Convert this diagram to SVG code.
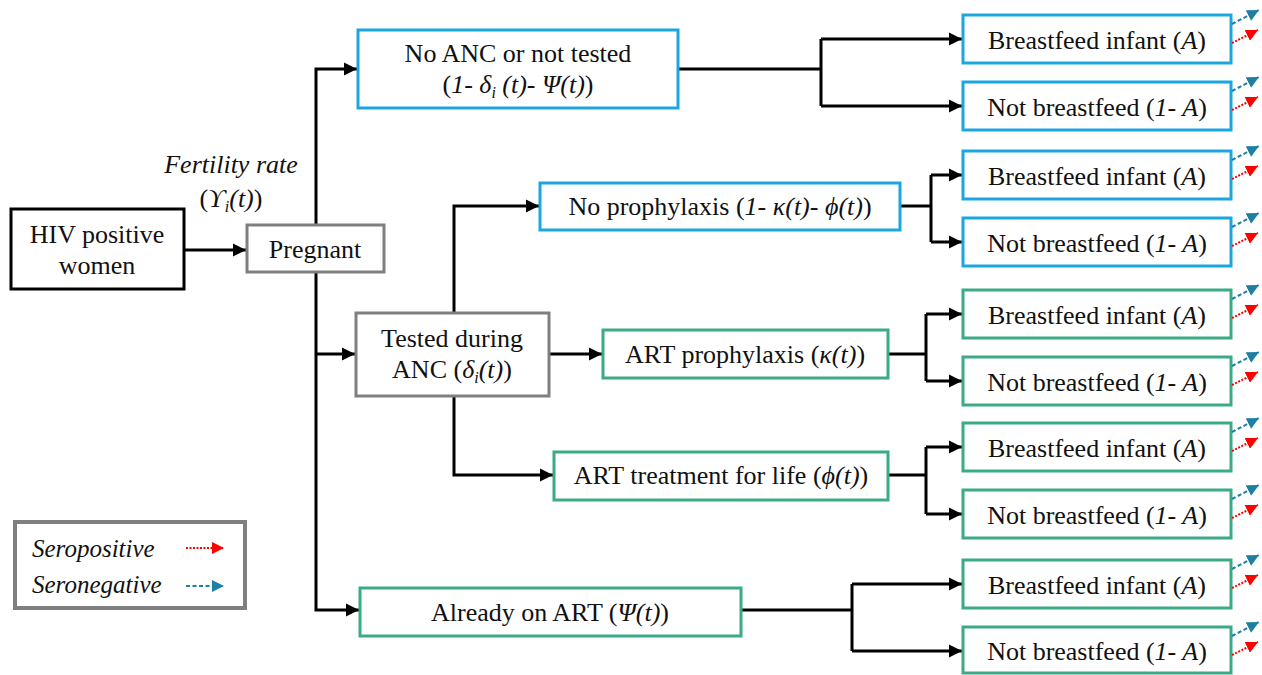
<svg xmlns="http://www.w3.org/2000/svg" width="1262" height="675" viewBox="0 0 1262 675" font-family="'Liberation Serif','Times New Roman','DejaVu Serif',serif">
<style>
text{font-family:"Liberation Serif","Times New Roman","DejaVu Serif",serif;font-size:26px;fill:#111;text-anchor:middle}
.i{font-style:italic}
.sub{font-size:16px;font-style:italic}
.box{fill:#fff;stroke-width:3}
.k{stroke:#000}
.g{stroke:#7f7f7f}
.b{stroke:#1aa7e0}
.t{stroke:#3aaa88}
.c{fill:none;stroke:#000;stroke-width:3}
.sn{fill:none;stroke:#1f7fa3;stroke-width:2;stroke-dasharray:4 2.5}
.sp{fill:none;stroke:#ff0000;stroke-width:2;stroke-dasharray:2 1.5}
.leg{font-size:25px;font-style:italic;text-anchor:start}
</style>
<defs>
<marker id="ah" viewBox="0 0 10 10" refX="10" refY="5" markerWidth="4.5" markerHeight="5" markerUnits="strokeWidth" orient="auto"><path d="M0,0L10,5L0,10z" fill="#000"/></marker>
<marker id="ab" viewBox="0 0 10 10" refX="10" refY="5" markerWidth="6" markerHeight="6" markerUnits="strokeWidth" orient="auto"><path d="M0,0L10,5L0,10z" fill="#1f7fa3"/></marker>
<marker id="ar" viewBox="0 0 10 10" refX="10" refY="5" markerWidth="6" markerHeight="6" markerUnits="strokeWidth" orient="auto"><path d="M0,0L10,5L0,10z" fill="#ff0000"/></marker>
</defs>

<g id="connectors">
<path class="c" d="M184,250H246" marker-end="url(#ah)"/>
<path class="c" d="M316,225V69H357" marker-end="url(#ah)"/>
<path class="c" d="M316,272V610H359" marker-end="url(#ah)"/>
<path class="c" d="M316,354H355" marker-end="url(#ah)"/>
<path class="c" d="M454,313V206H539" marker-end="url(#ah)"/>
<path class="c" d="M549,354H602" marker-end="url(#ah)"/>
<path class="c" d="M454,396V475H553" marker-end="url(#ah)"/>
<path class="c" d="M678,69H821"/>
<path class="c" d="M821,39V106"/>
<path class="c" d="M821,39H962" marker-end="url(#ah)"/>
<path class="c" d="M821,106H962" marker-end="url(#ah)"/>
<path class="c" d="M900,206H931"/>
<path class="c" d="M931,175V242"/>
<path class="c" d="M931,175H962" marker-end="url(#ah)"/>
<path class="c" d="M931,242H962" marker-end="url(#ah)"/>
<path class="c" d="M888,354H926"/>
<path class="c" d="M926,314V381"/>
<path class="c" d="M926,314H962" marker-end="url(#ah)"/>
<path class="c" d="M926,381H962" marker-end="url(#ah)"/>
<path class="c" d="M888,475H926"/>
<path class="c" d="M926,447V514"/>
<path class="c" d="M926,447H962" marker-end="url(#ah)"/>
<path class="c" d="M926,514H962" marker-end="url(#ah)"/>
<path class="c" d="M741,610H852"/>
<path class="c" d="M852,584V651"/>
<path class="c" d="M852,584H962" marker-end="url(#ah)"/>
<path class="c" d="M852,651H962" marker-end="url(#ah)"/>
</g>

<g id="label-fertility">
<text x="231" y="173" class="i">Fertility rate</text>
<text x="231" y="207">(<tspan class="i">ϒ</tspan><tspan class="sub" dy="5">i</tspan><tspan class="i" dy="-5">(t)</tspan>)</text>
</g>

<g id="hiv"><rect class="box k" x="11" y="209" width="173" height="80"/><text x="97" y="243">HIV positive</text><text x="97" y="274">women</text></g>
<g id="pregnant"><rect class="box g" x="247" y="225" width="137" height="47"/><text x="315" y="258">Pregnant</text></g>
<g id="noanc"><rect class="box b" x="358" y="30" width="320" height="78"/><text x="518" y="62">No ANC or not tested</text><text x="518" y="93">(<tspan class="i">1- δ</tspan><tspan class="sub" dy="5">i</tspan><tspan class="i" dy="-5"> (t)- Ψ(t)</tspan>)</text></g>
<g id="tested"><rect class="box g" x="356" y="313" width="193" height="83"/><text x="452" y="347">Tested during</text><text x="452" y="378">ANC (<tspan class="i">δ</tspan><tspan class="sub" dy="5">i</tspan><tspan class="i" dy="-5">(t)</tspan>)</text></g>
<g id="noproph"><rect class="box b" x="540" y="183" width="360" height="47"/><text x="720" y="215">No prophylaxis (<tspan class="i">1- κ(t)- ϕ(t)</tspan>)</text></g>
<g id="artproph"><rect class="box t" x="603" y="330" width="285" height="48"/><text x="745" y="363">ART prophylaxis (<tspan class="i">κ(t)</tspan>)</text></g>
<g id="arttreat"><rect class="box t" x="554" y="452" width="334" height="48"/><text x="721" y="484">ART treatment for life (<tspan class="i">ϕ(t)</tspan>)</text></g>
<g id="already"><rect class="box t" x="360" y="588" width="381" height="48"/><text x="550" y="621">Already on ART (<tspan class="i">Ψ(t)</tspan>)</text></g>

<g id="bf1"><rect class="box b" x="963" y="15" width="268" height="48"/><text x="1097" y="49">Breastfeed infant (<tspan class="i">A</tspan>)</text><path class="sn" d="M1232,24L1259,10" marker-end="url(#ab)"/><path class="sp" d="M1232,43L1258,30" marker-end="url(#ar)"/></g>
<g id="nbf1"><rect class="box b" x="963" y="82" width="268" height="48"/><text x="1097" y="116">Not breastfeed (<tspan class="i">1- A</tspan>)</text><path class="sn" d="M1232,91L1259,77" marker-end="url(#ab)"/><path class="sp" d="M1232,110L1258,97" marker-end="url(#ar)"/></g>
<g id="bf2"><rect class="box b" x="963" y="151" width="268" height="48"/><text x="1097" y="185">Breastfeed infant (<tspan class="i">A</tspan>)</text><path class="sn" d="M1232,160L1259,146" marker-end="url(#ab)"/><path class="sp" d="M1232,179L1258,166" marker-end="url(#ar)"/></g>
<g id="nbf2"><rect class="box b" x="963" y="218" width="268" height="48"/><text x="1097" y="252">Not breastfeed (<tspan class="i">1- A</tspan>)</text><path class="sn" d="M1232,227L1259,213" marker-end="url(#ab)"/><path class="sp" d="M1232,246L1258,233" marker-end="url(#ar)"/></g>
<g id="bf3"><rect class="box t" x="963" y="290" width="268" height="48"/><text x="1097" y="324">Breastfeed infant (<tspan class="i">A</tspan>)</text><path class="sn" d="M1232,299L1259,285" marker-end="url(#ab)"/><path class="sp" d="M1232,318L1258,305" marker-end="url(#ar)"/></g>
<g id="nbf3"><rect class="box t" x="963" y="357" width="268" height="48"/><text x="1097" y="391">Not breastfeed (<tspan class="i">1- A</tspan>)</text><path class="sn" d="M1232,366L1259,352" marker-end="url(#ab)"/><path class="sp" d="M1232,385L1258,372" marker-end="url(#ar)"/></g>
<g id="bf4"><rect class="box t" x="963" y="423" width="268" height="48"/><text x="1097" y="457">Breastfeed infant (<tspan class="i">A</tspan>)</text><path class="sn" d="M1232,432L1259,418" marker-end="url(#ab)"/><path class="sp" d="M1232,451L1258,438" marker-end="url(#ar)"/></g>
<g id="nbf4"><rect class="box t" x="963" y="490" width="268" height="48"/><text x="1097" y="524">Not breastfeed (<tspan class="i">1- A</tspan>)</text><path class="sn" d="M1232,499L1259,485" marker-end="url(#ab)"/><path class="sp" d="M1232,518L1258,505" marker-end="url(#ar)"/></g>
<g id="bf5"><rect class="box t" x="963" y="560" width="268" height="48"/><text x="1097" y="594">Breastfeed infant (<tspan class="i">A</tspan>)</text><path class="sn" d="M1232,569L1259,555" marker-end="url(#ab)"/><path class="sp" d="M1232,588L1258,575" marker-end="url(#ar)"/></g>
<g id="nbf5"><rect class="box t" x="963" y="627" width="268" height="46"/><text x="1097" y="660">Not breastfeed (<tspan class="i">1- A</tspan>)</text><path class="sn" d="M1232,636L1259,622" marker-end="url(#ab)"/><path class="sp" d="M1232,655L1258,642" marker-end="url(#ar)"/></g>

<g id="legend">
<rect x="15" y="522" width="230" height="86" fill="#fff" stroke="#7f7f7f" stroke-width="4"/>
<text x="32" y="557" class="leg">Seropositive</text>
<path class="sp" d="M186,548H224" marker-end="url(#ar)"/>
<text x="32" y="593" class="leg">Seronegative</text>
<path class="sn" d="M186,586H224" marker-end="url(#ab)"/>
</g>
</svg>
